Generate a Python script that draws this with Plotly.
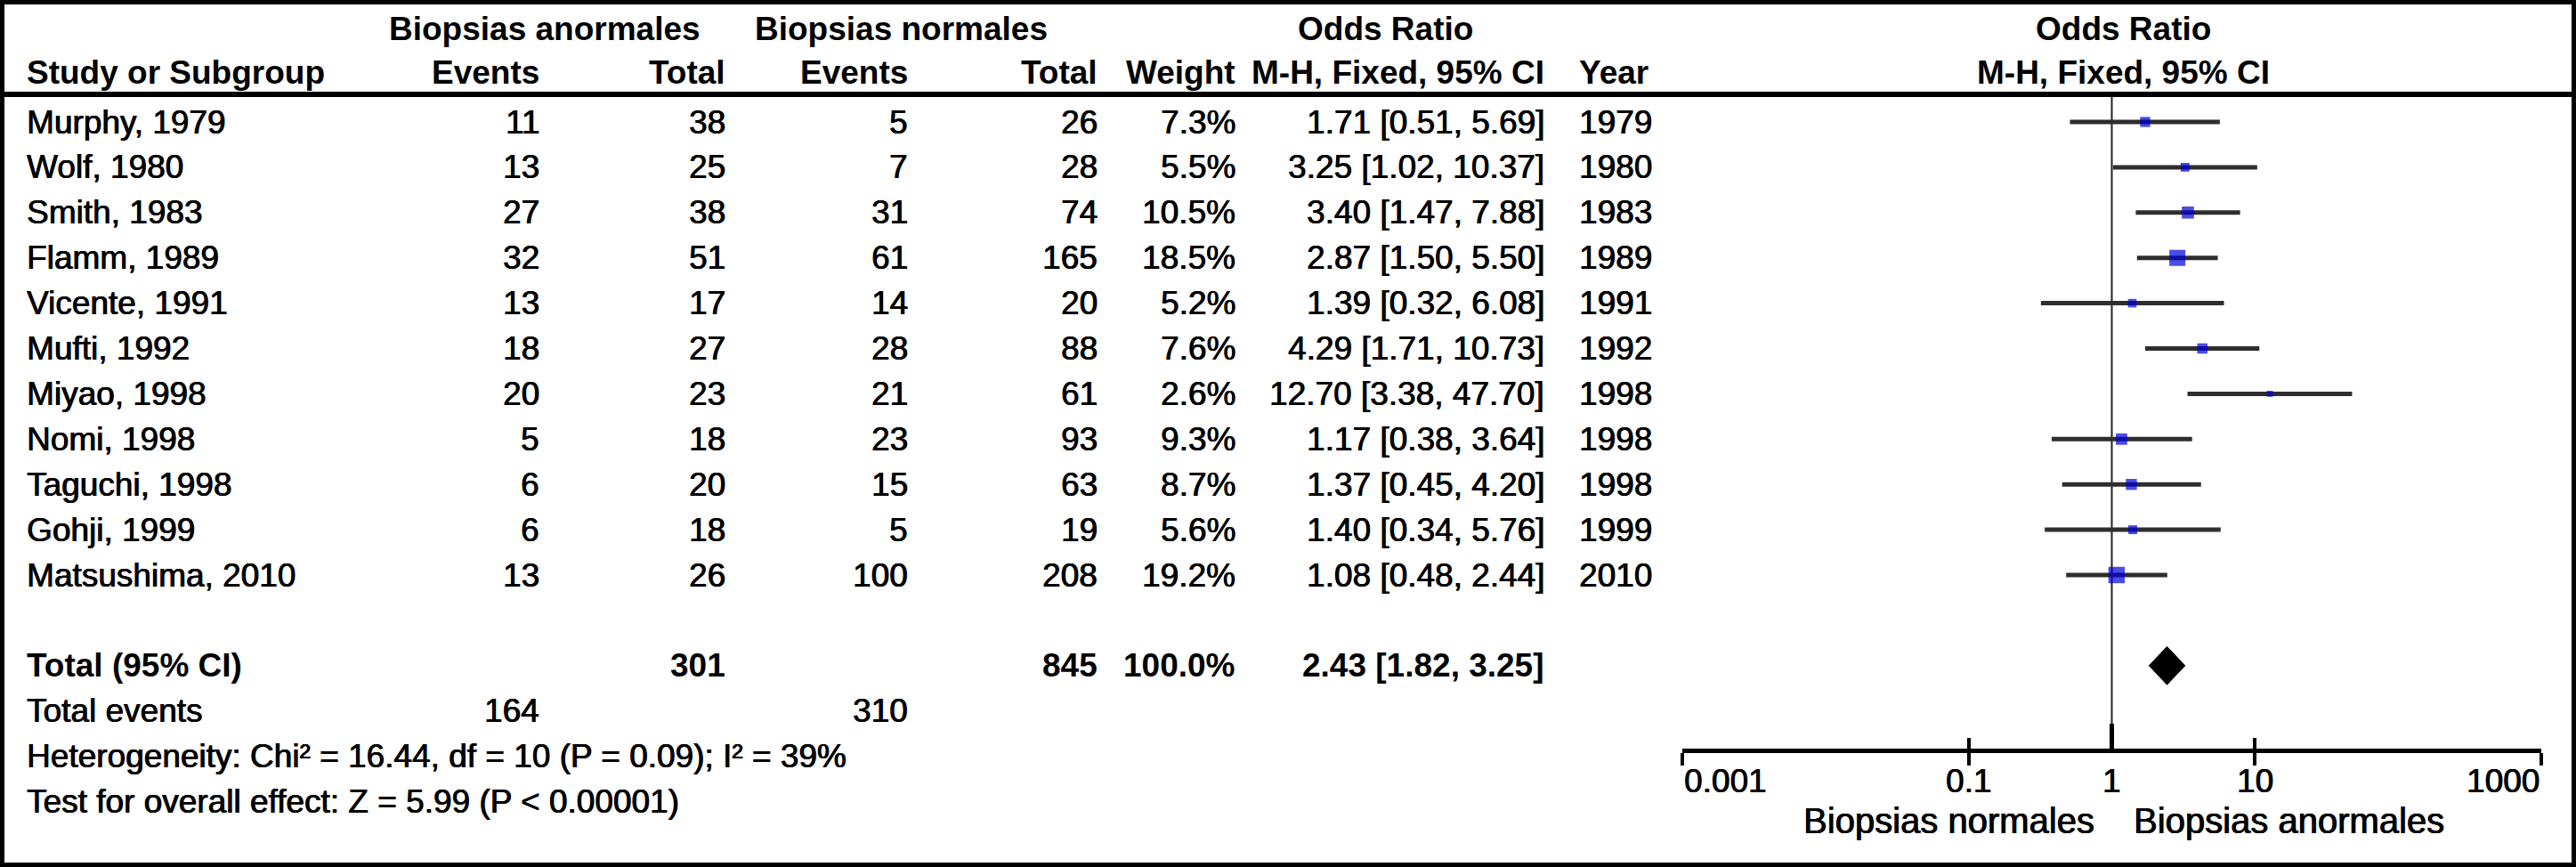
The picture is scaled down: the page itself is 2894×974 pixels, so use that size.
import math
import plotly.graph_objects as go

# ---------------- data ----------------
studies = ["Murphy, 1979", "Wolf, 1980", "Smith, 1983", "Flamm, 1989", "Vicente, 1991",
           "Mufti, 1992", "Miyao, 1998", "Nomi, 1998", "Taguchi, 1998", "Gohji, 1999",
           "Matsushima, 2010"]
events_abn = [11, 13, 27, 32, 13, 18, 20, 5, 6, 6, 13]
total_abn = [38, 25, 38, 51, 17, 27, 23, 18, 20, 18, 26]
events_norm = [5, 7, 31, 61, 14, 28, 21, 23, 15, 5, 100]
total_norm = [26, 28, 74, 165, 20, 88, 61, 93, 63, 19, 208]
weights = [7.3, 5.5, 10.5, 18.5, 5.2, 7.6, 2.6, 9.3, 8.7, 5.6, 19.2]
or_vals = [1.71, 3.25, 3.40, 2.87, 1.39, 4.29, 12.70, 1.17, 1.37, 1.40, 1.08]
ci_low = [0.51, 1.02, 1.47, 1.50, 0.32, 1.71, 3.38, 0.38, 0.45, 0.34, 0.48]
ci_high = [5.69, 10.37, 7.88, 5.50, 6.08, 10.73, 47.70, 3.64, 4.20, 5.76, 2.44]
years = [1979, 1980, 1983, 1989, 1991, 1992, 1998, 1998, 1998, 1999, 2010]

total_abn_sum = 301
total_norm_sum = 845
total_weight = 100.0
total_or = 2.43
total_lo = 1.82
total_hi = 3.25
events_abn_sum = 164
events_norm_sum = 310
heterogeneity_text = "Heterogeneity: Chi² = 16.44, df = 10 (P = 0.09); I² = 39%"
overall_text = "Test for overall effect: Z = 5.99 (P < 0.00001)"

axis_ticks = [0.001, 0.1, 1, 10, 1000]
axis_ticklabels = ["0.001", "0.1", "1", "10", "1000"]
favours_left = "Biopsias normales"
favours_right = "Biopsias anormales"
group_left = "Biopsias anormales"
group_right = "Biopsias normales"

# ---------------- layout geometry (pixels) ----------------
W, H = 2894, 974
ROW0, ROWH = 137, 50.9          # first study row centre, row pitch
FONT = "Liberation Sans, Arial, sans-serif"
FS = 37
THICK = "0.6px 0px 0px black, -0.3px 0px 0px black"

def py(p):           # pixel y -> paper y
    return 1 - p / H

def px(p):           # pixel x -> paper x
    return p / W

def idx(p):          # pixel y -> row index units
    return (p - ROW0) / ROWH

n = len(studies)
rows = list(range(n))
total_row = n + 1
events_row = n + 2
het_row = n + 3
test_row = n + 4

annotations = []

def font(size=FS, bold=False):
    f = dict(family=FONT, size=size, color="black")
    if not bold:
        f["shadow"] = THICK
    return f

def txt(x, y, s, anchor, bold=False, yref="y", size=FS):
    annotations.append(dict(
        x=px(x), y=y, xref="paper", yref=yref, text=("<b>%s</b>" % s) if bold else s,
        xanchor=anchor, yanchor="middle", showarrow=False, font=font(size, bold)))

# column anchors
X_STUDY = 28
X_EV1 = 608
X_TOT1 = 817
X_EV2 = 1022
X_TOT2 = 1235
X_WEIGHT = 1390
X_OR = 1737
X_YEAR = 1772
X_GRP1 = 612
X_GRP2 = 1012
X_ORHEAD = 1556
X_FOREST_HEAD = 2385

H1 = py(32)
H2 = py(82)
txt(X_GRP1, H1, group_left, "center", True, "paper")
txt(X_GRP2, H1, group_right, "center", True, "paper")
txt(X_ORHEAD, H1, "Odds Ratio", "center", True, "paper")
txt(X_FOREST_HEAD, H1, "Odds Ratio", "center", True, "paper")
txt(X_STUDY, H2, "Study or Subgroup", "left", True, "paper")
txt(X_EV1, H2, "Events", "right", True, "paper")
txt(X_TOT1, H2, "Total", "right", True, "paper")
txt(X_EV2, H2, "Events", "right", True, "paper")
txt(X_TOT2, H2, "Total", "right", True, "paper")
txt(X_WEIGHT, H2, "Weight", "right", True, "paper")
txt(X_OR, H2, "M-H, Fixed, 95% CI", "right", True, "paper")
txt(X_YEAR, H2, "Year", "left", True, "paper")
txt(X_FOREST_HEAD, H2, "M-H, Fixed, 95% CI", "center", True, "paper")

for i in rows:
    txt(X_STUDY, i, studies[i], "left")
    txt(X_EV1, i, str(events_abn[i]), "right")
    txt(X_TOT1, i, str(total_abn[i]), "right")
    txt(X_EV2, i, str(events_norm[i]), "right")
    txt(X_TOT2, i, str(total_norm[i]), "right")
    txt(X_WEIGHT, i, "%.1f%%" % weights[i], "right")
    txt(X_OR, i, "%.2f [%.2f, %.2f]" % (or_vals[i], ci_low[i], ci_high[i]), "right")
    txt(X_YEAR, i, str(years[i]), "left")

txt(X_STUDY, total_row, "Total (95% CI)", "left", True)
txt(X_TOT1, total_row, str(total_abn_sum), "right", True)
txt(X_TOT2, total_row, str(total_norm_sum), "right", True)
txt(X_WEIGHT, total_row, "%.1f%%" % total_weight, "right", True)
txt(X_OR, total_row, "%.2f [%.2f, %.2f]" % (total_or, total_lo, total_hi), "right", True)
txt(X_STUDY, events_row, "Total events", "left")
txt(X_EV1, events_row, str(events_abn_sum), "right")
txt(X_EV2, events_row, str(events_norm_sum), "right")
txt(X_STUDY, het_row, heterogeneity_text, "left")
txt(X_STUDY, test_row, overall_text, "left")

# forest axis labels
AXIS_Y = 843
for t, lab in zip(axis_ticks, axis_ticklabels):
    anchor = "center"
    if t == axis_ticks[0]:
        anchor = "left"
    elif t == axis_ticks[-1]:
        anchor = "right"
    annotations.append(dict(x=math.log10(t), y=py(877), xref="x", yref="paper", text=lab,
                            xanchor=anchor, yanchor="middle", showarrow=False,
                            font=font(FS)))
annotations.append(dict(x=0, y=py(922), xref="x", yref="paper", text=favours_left,
                        xanchor="right", xshift=-18, yanchor="middle", showarrow=False,
                        font=font(40)))
annotations.append(dict(x=0, y=py(922), xref="x", yref="paper", text=favours_right,
                        xanchor="left", xshift=22, yanchor="middle", showarrow=False,
                        font=font(40)))

fig = go.Figure()

# null-effect line
fig.add_trace(go.Scatter(x=[1, 1], y=[idx(107), idx(AXIS_Y)], mode="lines",
                         line=dict(color="#222222", width=2), hoverinfo="skip", showlegend=False))
fig.add_trace(go.Scatter(x=[1, 1], y=[idx(813), idx(AXIS_Y)], mode="lines",
                         line=dict(color="black", width=5), hoverinfo="skip", showlegend=False))

# study estimates with CIs
fig.add_trace(go.Scatter(
    x=or_vals, y=rows, mode="markers",
    marker=dict(symbol="square", color="#0000D8", size=[4.2 * math.sqrt(w) for w in weights],
                line=dict(width=0)),
    error_x=dict(type="data", symmetric=False,
                 array=[h - o for h, o in zip(ci_high, or_vals)],
                 arrayminus=[o - l for o, l in zip(or_vals, ci_low)],
                 color="#2e2e2e", thickness=5, width=0),
    hoverinfo="skip", showlegend=False))

# pooled diamond
DH = 0.42
fig.add_trace(go.Scatter(
    x=[total_lo, total_or, total_hi, total_or, total_lo],
    y=[total_row, total_row - DH, total_row, total_row + DH, total_row],
    mode="lines", fill="toself", fillcolor="black", line=dict(color="black", width=1),
    hoverinfo="skip", showlegend=False))

shapes = [
    dict(type="rect", xref="paper", yref="paper", x0=0, x1=1, y0=0, y1=1,
         line=dict(color="black", width=10)),
    dict(type="line", xref="paper", yref="paper", x0=0, x1=1, y0=py(106), y1=py(106),
         line=dict(color="black", width=6)),
]

axis_pos = py(AXIS_Y)
dom = [px(1890), px(2855)]
fig.update_layout(
    width=W, height=H, autosize=False,
    margin=dict(l=0, r=0, t=0, b=0, pad=0),
    paper_bgcolor="white", plot_bgcolor="rgba(0,0,0,0)",
    showlegend=False,
    annotations=annotations, shapes=shapes,
    xaxis=dict(type="log", range=[-3, 3], domain=dom, anchor="free", position=axis_pos,
               showline=True, linecolor="black", linewidth=5, mirror=False,
               ticks="outside", ticklen=14, tickwidth=4, tickcolor="black",
               tickvals=[t for t in axis_ticks if t != 1], showticklabels=False,
               showgrid=False, zeroline=False, fixedrange=True),
    xaxis2=dict(type="log", range=[-3, 3], domain=dom, anchor="free", position=axis_pos,
                overlaying="x", showline=False,
                ticks="inside", ticklen=14, tickwidth=4, tickcolor="black",
                tickvals=[t for t in axis_ticks if t != 1], showticklabels=False,
                showgrid=False, zeroline=False, fixedrange=True),
    yaxis=dict(domain=[0, 1], range=[idx(H), idx(0)], visible=False,
               showgrid=False, zeroline=False, fixedrange=True),
)
# invisible trace to activate xaxis2
fig.add_trace(go.Scatter(x=[1], y=[0], xaxis="x2", mode="markers",
                         marker=dict(opacity=0), hoverinfo="skip", showlegend=False))

fig.write_html("out.html", config={"displayModeBar": False},
               post_script="document.body.style.margin='0';document.body.style.overflow='hidden';")
